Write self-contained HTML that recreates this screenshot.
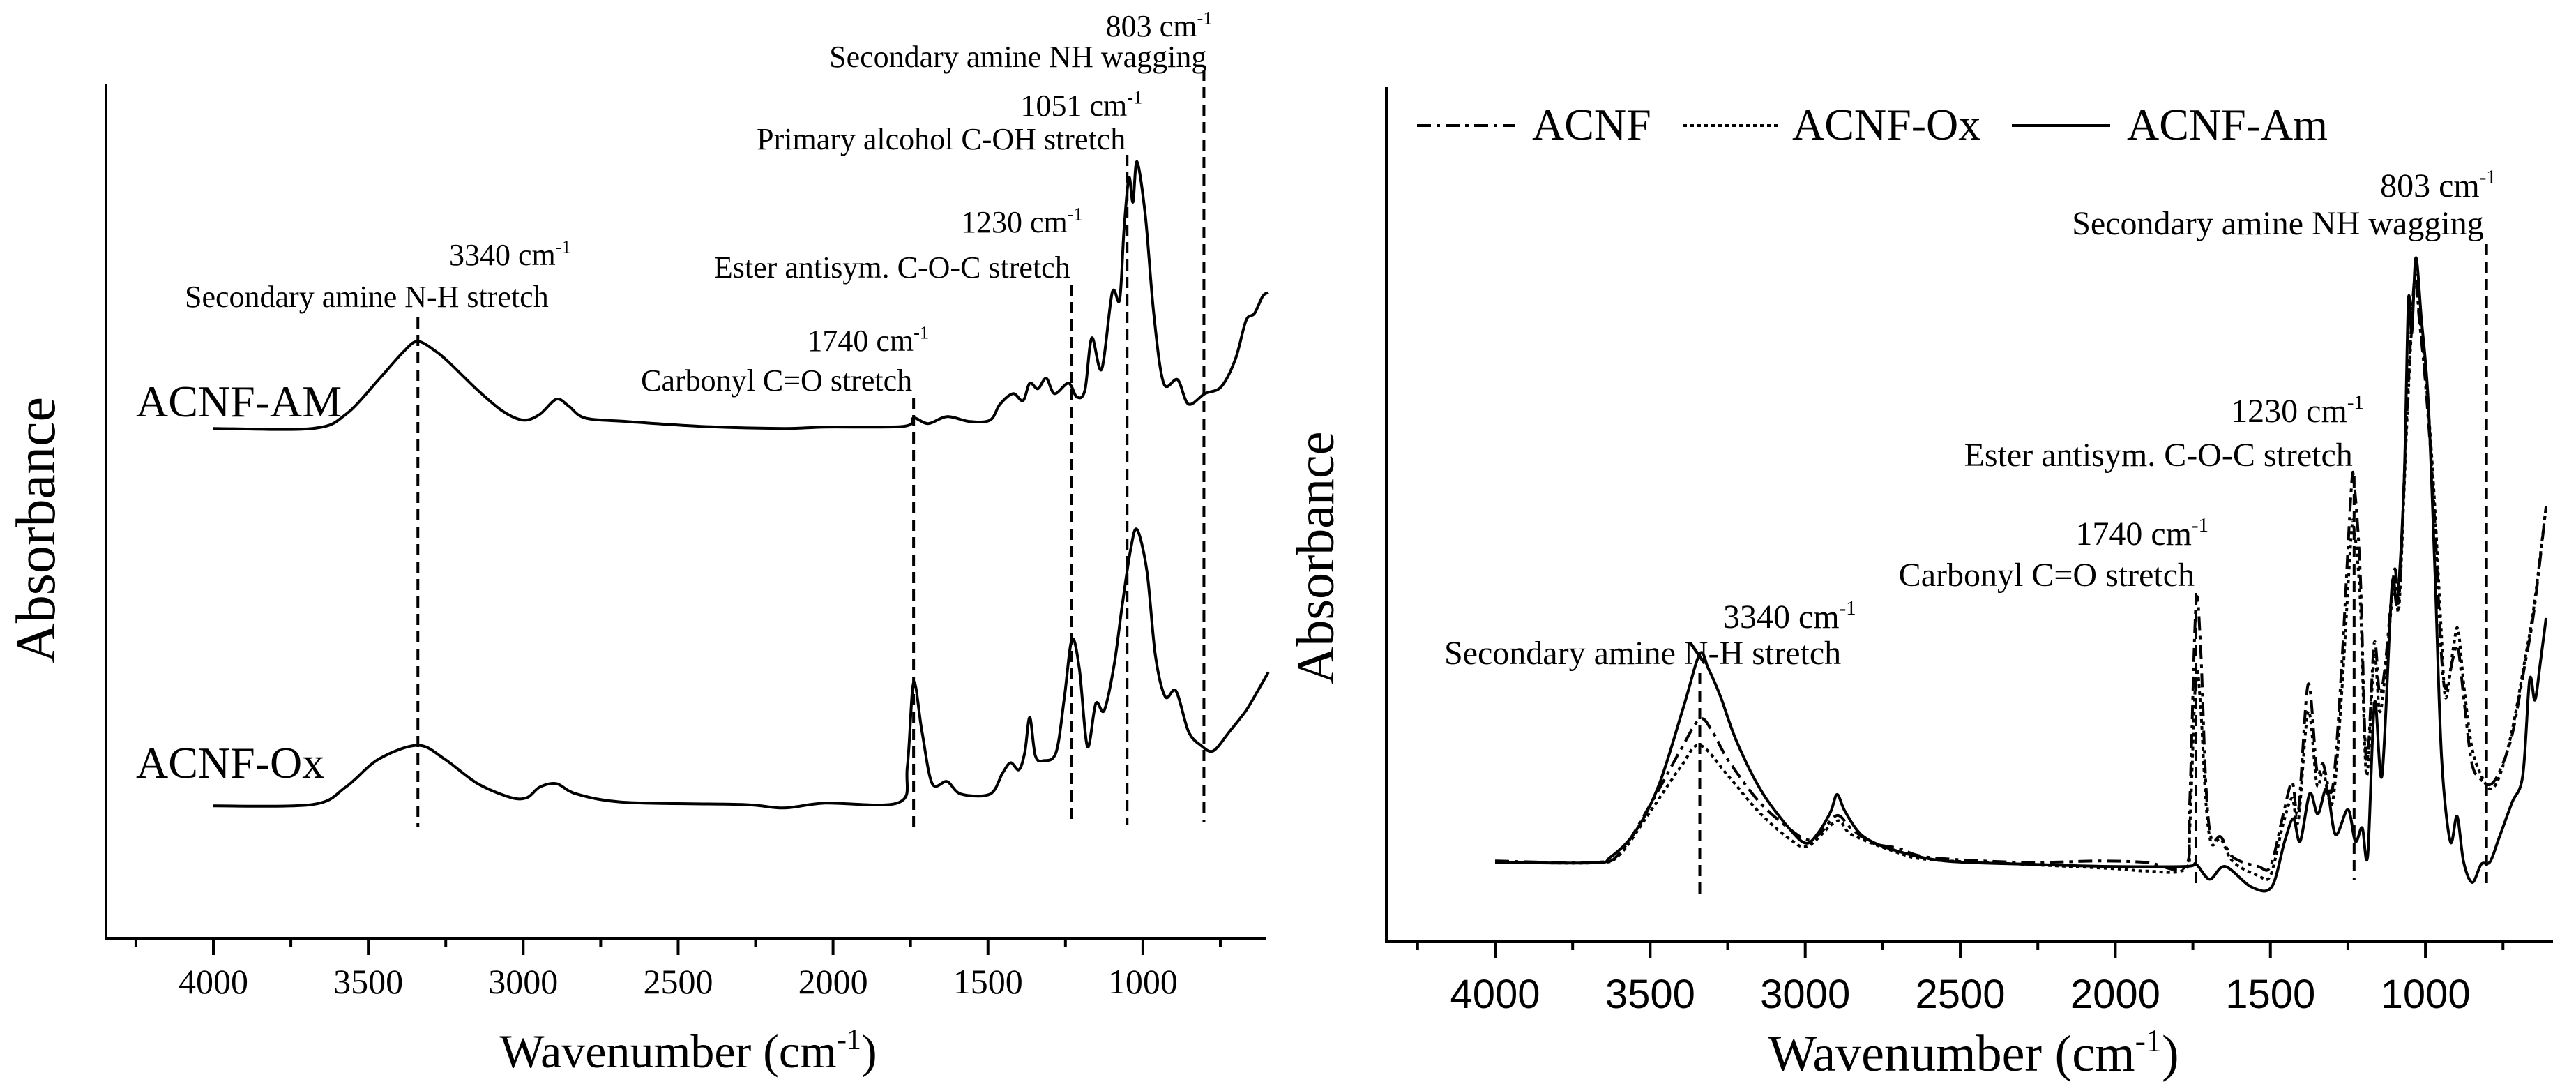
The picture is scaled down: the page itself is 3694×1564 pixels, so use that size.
<!DOCTYPE html>
<html><head><meta charset="utf-8"><style>
html,body{margin:0;padding:0;background:#fff;}
svg{display:block;}
text{font-family:"Liberation Serif",serif;fill:#000;}
.sans{font-family:"Liberation Sans",sans-serif;}
</style></head><body>
<svg id="chart" width="3694" height="1564" viewBox="0 0 3694 1564" xmlns="http://www.w3.org/2000/svg"></svg>
<script>
// ---------- data: left panel (stacked spectra) ----------
const leftAmWn = [4000,3680,3573,3467,3387,3340,3280,3240,3147,3067,3000,2947,2893,2853,2800,2667,2427,2160,2027,1773,1740,1693,1632,1560,1493,1461,1419,1387,1365,1339,1312,1285,1240,1213,1187,1165,1133,1099,1075,1061,1045,1032,1019,992,965,933,888,853,800,747,701,667,640,613,595];
const leftAmVal = [7.32,7.32,7.52,8.02,8.42,8.57,8.42,8.27,7.87,7.57,7.44,7.52,7.74,7.64,7.47,7.42,7.35,7.32,7.34,7.35,7.47,7.39,7.49,7.42,7.44,7.67,7.82,7.72,7.97,7.89,8.04,7.82,7.97,7.77,7.87,8.62,8.17,9.27,9.17,10.17,10.92,10.57,11.15,10.37,8.97,7.97,8.02,7.67,7.82,7.92,8.32,8.87,8.97,9.22,9.27];
const leftOxWn = [4000,3680,3573,3467,3340,3253,3147,3040,2987,2947,2893,2827,2667,2293,2160,2027,1787,1760,1740,1713,1680,1632,1587,1493,1453,1427,1400,1381,1365,1347,1320,1280,1253,1229,1205,1179,1152,1125,1093,1067,1040,1019,987,960,928,893,853,813,773,720,667,627,595];
const leftOxVal = [1.90,1.92,2.17,2.57,2.77,2.57,2.22,2.02,2.02,2.17,2.22,2.07,1.95,1.92,1.87,1.94,1.95,2.47,3.67,2.97,2.22,2.25,2.07,2.07,2.37,2.52,2.42,2.67,3.17,2.62,2.55,2.67,3.47,4.29,3.87,2.75,3.37,3.27,3.92,4.77,5.57,5.87,5.27,4.07,3.47,3.55,2.97,2.77,2.69,2.97,3.27,3.57,3.82];
// ---------- data: right panel (overlaid spectra) ----------
const rightAmWn = [4000,3682,3629,3550,3471,3392,3340,3313,3274,3221,3142,3050,2997,2958,2918,2897,2871,2813,2708,2550,2287,2024,1774,1740,1696,1646,1561,1496,1454,1426,1404,1373,1347,1318,1290,1250,1226,1204,1186,1164,1140,1108,1091,1069,1055,1044,1031,1013,991,969,948,920,898,877,849,820,792,764,721,686,664,647,629,611];
const rightAmVal = [0.09,0.08,0.20,0.74,1.80,3.51,4.66,4.35,3.74,2.74,1.66,0.82,0.51,0.74,1.20,1.58,1.20,0.66,0.35,0.12,0.05,0.0,0.0,0.05,-0.28,0.0,-0.45,-0.45,0.55,1.05,0.55,1.6,1.15,1.7,0.7,1.25,0.55,0.85,0.25,3.6,2.0,6.15,5.8,8.4,12.4,11.7,13.35,12.0,10.2,6.4,2.4,0.55,1.1,0.1,-0.35,0.05,0.1,0.6,1.4,2.0,4.1,3.65,4.5,5.45];
const rightAcnfWn = [4000,3682,3600,3500,3400,3340,3300,3250,3150,3050,2990,2950,2897,2850,2780,2700,2600,2300,2050,1900,1774,1760,1740,1725,1708,1690,1660,1620,1540,1500,1460,1430,1410,1378,1350,1330,1300,1270,1240,1230,1210,1190,1165,1148,1130,1100,1085,1060,1035,1020,1000,975,950,935,910,895,875,850,820,790,760,720,680,650,611];
const rightAcnfVal = [0.12,0.09,0.28,1.35,2.58,3.23,2.97,2.35,1.43,0.82,0.58,0.74,1.12,0.82,0.51,0.40,0.20,0.09,0.12,0.09,0.0,1.4,5.75,4.8,1.8,0.6,0.65,0.2,0.0,0.0,1.1,1.85,1.2,4.0,2.1,2.25,1.7,4.4,8.2,8.4,6.4,2.3,4.9,3.8,4.4,6.5,5.9,9.9,12.9,12.0,10.6,8.2,4.8,3.9,4.6,4.8,3.6,2.25,1.9,1.8,2.1,2.9,4.4,5.6,7.9];
const rightOxWn = [4000,3682,3600,3500,3400,3340,3250,3150,3050,2990,2897,2850,2700,2600,2300,2000,1900,1774,1760,1740,1725,1708,1690,1660,1620,1540,1500,1460,1430,1410,1378,1350,1330,1300,1270,1240,1230,1210,1190,1165,1148,1130,1100,1085,1060,1035,1020,1000,975,950,935,910,895,875,850,820,790,760,720,680,650,611];
const rightOxVal = [0.10,0.08,0.25,1.2,2.2,2.66,2.0,1.2,0.6,0.45,1.0,0.7,0.3,0.15,0.05,-0.05,-0.1,-0.05,0.8,4.2,3.5,1.4,0.5,0.6,0.1,-0.2,-0.2,0.9,1.5,1.0,3.4,1.8,2.1,1.4,3.8,7.2,7.4,5.8,2.0,4.6,3.4,4.2,6.3,5.7,9.7,12.8,12.1,10.8,8.5,5.3,3.7,4.8,5.2,3.9,2.6,2.0,1.7,2.0,3.0,4.5,5.7,7.9];
// ---------- axis ticks ----------
const majorTicks = [4000,3500,3000,2500,2000,1500,1000];
const minorTicks = [4250,3750,3250,2750,2250,1750,1250,750];

const NS = "http://www.w3.org/2000/svg";
const svg = document.getElementById('chart');
function mk(tag, attrs, parent){
  const e = document.createElementNS(NS, tag);
  for (const k in attrs) e.setAttribute(k, attrs[k]);
  (parent||svg).appendChild(e);
  return e;
}
const L = {x0:152, x1:1815, y0:1345, y1:120, wn4000:306, pxPerWn:0.4443, vMin:0, vMax:12.27};
const R = {x0:1988, x1:3661, y0:1350, y1:125, wn4000:2144, pxPerWn:0.4447, vMin:-1.65, vMax:17.09};
function xs(P, wn){ return P.wn4000 + (4000-wn)*P.pxPerWn; }
function ys(P, v){ return P.y0 - (v-P.vMin)/(P.vMax-P.vMin)*(P.y0-P.y1); }

function axes(P, g, sansLabels, fontSize, labelY){
  const ax = mk('path',{d:`M${P.x0},${P.y1} L${P.x0},${P.y0} L${P.x1},${P.y0}`,fill:'none',stroke:'#000','stroke-width':4},g);
  
  
  majorTicks.forEach(t=>{
    const x = xs(P,t);
    const tk = mk('line',{x1:x,y1:P.y0,x2:x,y2:P.y0+24,stroke:'#000','stroke-width':4},g);
    
    
    const lb = mk('text',{x:x,y:labelY,'text-anchor':'middle','font-size':fontSize},g);
    if (sansLabels) lb.setAttribute('class','sans');
    lb.textContent = t;
    
    
  });
  minorTicks.forEach(t=>{
    const x = xs(P,t);
    const tk = mk('line',{x1:x,y1:P.y0,x2:x,y2:P.y0+12,stroke:'#000','stroke-width':4},g);
    
    
  });
}
function series(P, wn, val, g, dash, name){
  const pts = wn.map((w,i)=>[xs(P,w), ys(P,val[i])]);
  let d = 'M' + pts[0][0].toFixed(1) + ',' + pts[0][1].toFixed(1);
  for (let i=0;i<pts.length-1;i++){
    const p0 = pts[i>0?i-1:i], p1 = pts[i], p2 = pts[i+1], p3 = pts[i+2<pts.length?i+2:i+1];
    const t = 0.16;
    const c1 = [p1[0]+(p2[0]-p0[0])*t, p1[1]+(p2[1]-p0[1])*t];
    const c2 = [p2[0]-(p3[0]-p1[0])*t, p2[1]-(p3[1]-p1[1])*t];
    d += ' C' + c1[0].toFixed(1)+','+c1[1].toFixed(1)+' '+c2[0].toFixed(1)+','+c2[1].toFixed(1)+' '+p2[0].toFixed(1)+','+p2[1].toFixed(1);
  }
  const p = mk('path',{d:d,fill:'none',stroke:'#000','stroke-width':4,'stroke-linejoin':'round'},g);
  if (dash) p.setAttribute('stroke-dasharray',dash);
  
  
}
function vline(P, wn, yTop, yBot, g){
  const x = xs(P,wn);
  const l = mk('line',{x1:x,y1:yTop,x2:x,y2:yBot,stroke:'#000','stroke-width':4,'stroke-dasharray':'16 9'},g);
  
  
}
function label(x, y, txt, size, anchor, g, name, sup){
  const t = mk('text',{x:x,y:y,'font-size':size,'text-anchor':anchor||'start'},g);
  t.appendChild(document.createTextNode(txt));
  if (sup){
    const s = mk('tspan',{dy:-size*0.4,'font-size':size*0.6},t);
    s.textContent = sup;
  }
  
  
  return t;
}

// ---------- LEFT PANEL ----------
const gL = mk('g',{});


axes(L, gL, false, 50, 1424);
series(L, leftAmWn, leftAmVal, gL, null, 'acnf-am-spectrum');
series(L, leftOxWn, leftOxVal, gL, null, 'acnf-ox-spectrum');
label(195, 597, 'ACNF-AM', 64, 'start', gL, 'acnf-am-label');
label(195, 1115, 'ACNF-Ox', 64, 'start', gL, 'acnf-ox-label');
vline(L,3340,455,1185,gL);
vline(L,1740,570,1185,gL);
vline(L,1230,408,1182,gL);
vline(L,1051,222,1182,gL);
vline(L,803,100,1178,gL);
label(xs(L,803)+12, 52, '803 cm', 44, 'end', gL, 'label-803-wavenumber', '-1');
label(xs(L,803)+4, 96, 'Secondary amine NH wagging', 44, 'end', gL, 'label-803-assignment');
label(xs(L,1051)+22, 166, '1051 cm', 44, 'end', gL, 'label-1051-wavenumber', '-1');
label(xs(L,1051)-2, 214, 'Primary alcohol C-OH stretch', 44, 'end', gL, 'label-1051-assignment');
label(xs(L,1230)+16, 333, '1230 cm', 44, 'end', gL, 'label-1230-wavenumber', '-1');
label(xs(L,1230)-2, 398, 'Ester antisym. C-O-C stretch', 44, 'end', gL, 'label-1230-assignment');
label(xs(L,1740)+22, 503, '1740 cm', 44, 'end', gL, 'label-1740-wavenumber', '-1');
label(xs(L,1740)-2, 560, 'Carbonyl C=O stretch', 44, 'end', gL, 'label-1740-assignment');
label(644, 380, '3340 cm', 44, 'start', gL, 'label-3340-wavenumber', '-1');
label(265, 440, 'Secondary amine N-H stretch', 44, 'start', gL, 'label-3340-assignment');
const ylL = label(0,0,'Absorbance',80,'middle',gL,'y-axis-title');
ylL.setAttribute('transform','translate(78,760) rotate(-90)');
label(987, 1530, 'Wavenumber (cm', 68, 'middle', gL, 'x-axis-title');
(function(){const t=gL.lastChild; const s=mk('tspan',{dy:-26,'font-size':42},t); s.textContent='-1'; const c=mk('tspan',{dy:26},t); c.textContent=')';})();

// ---------- RIGHT PANEL ----------
const gR = mk('g',{});


axes(R, gR, true, 58, 1445);
series(R, rightAcnfWn, rightAcnfVal, gR, '20 8 5 8', 'acnf-spectrum');
series(R, rightOxWn, rightOxVal, gR, '5 5', 'acnf-ox-spectrum');
series(R, rightAmWn, rightAmVal, gR, null, 'acnf-am-spectrum');
vline(R,3340,965,1290,gR);
vline(R,1740,850,1275,gR);
vline(R,1230,683,1262,gR);
vline(R,803,350,1275,gR);
label(xs(R,803)+14, 282, '803 cm', 48, 'end', gR, 'label-803-wavenumber', '-1');
label(xs(R,803)-4, 336, 'Secondary amine NH wagging', 48, 'end', gR, 'label-803-assignment');
label(xs(R,1230)+14, 605, '1230 cm', 48, 'end', gR, 'label-1230-wavenumber', '-1');
label(xs(R,1230)-2, 668, 'Ester antisym. C-O-C stretch', 48, 'end', gR, 'label-1230-assignment');
label(xs(R,1740)+18, 781, '1740 cm', 48, 'end', gR, 'label-1740-wavenumber', '-1');
label(xs(R,1740)-2, 840, 'Carbonyl C=O stretch', 48, 'end', gR, 'label-1740-assignment');
label(2471, 900, '3340 cm', 48, 'start', gR, 'label-3340-wavenumber', '-1');
label(2071, 952, 'Secondary amine N-H stretch', 48, 'start', gR, 'label-3340-assignment');
const ylR = label(0,0,'Absorbance',76,'middle',gR,'y-axis-title');
ylR.setAttribute('transform','translate(1912,800) rotate(-90)');
label(2830, 1535, 'Wavenumber (cm', 74, 'middle', gR, 'x-axis-title');
(function(){const t=gR.lastChild; const s=mk('tspan',{dy:-28,'font-size':46},t); s.textContent='-1'; const c=mk('tspan',{dy:28},t); c.textContent=')';})();

// legend
const gLeg = mk('g',{},gR);


[[2032,2173,2197,'ACNF','20 8 5 8'],[2414,2550,2570,'ACNF-Ox','5 5'],[2885,3026,3050,'ACNF-Am',null]].forEach(e=>{
  const l = mk('line',{x1:e[0],y1:180,x2:e[1],y2:180,stroke:'#000','stroke-width':4},gLeg);
  if (e[4]) l.setAttribute('stroke-dasharray',e[4]);
  
  
  label(e[2], 200, e[3], 64, 'start', gLeg, 'legend-entry');
});
</script>
</body></html>
